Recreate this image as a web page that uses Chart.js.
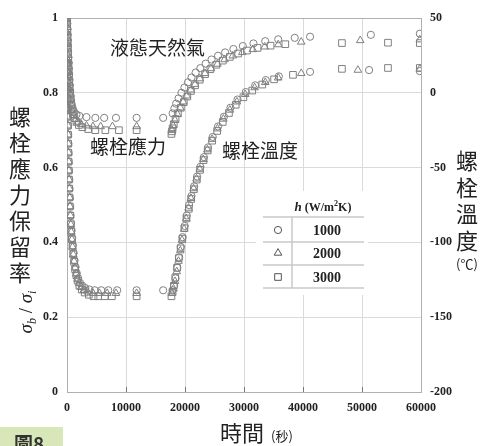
<!DOCTYPE html>
<html>
<head>
<meta charset="utf-8">
<script src="https://cdn.jsdelivr.net/npm/chart.js@4/dist/chart.umd.min.js"></script>
<style>
  html, body { margin: 0; padding: 0; background: #fff; }
  #chart { display: block; }
</style>
</head>
<body>
<canvas id="chart" width="483" height="446"></canvas>
<script>
// time (s) and stress retention ratio for each h (W/m2K)
const stressTime1000 = [0, 30, 60, 90, 120, 150, 180, 220, 260, 300, 350, 400, 460, 530, 610, 700, 820, 1000, 1250, 1600, 2100, 3300, 4800, 6300, 8300, 11800, 16300, 17900, 18200, 18500, 18900, 19400, 19900, 20500, 21100, 21800, 22600, 23500, 24500, 25600, 26800, 28200, 29800, 31600, 33600, 35800, 38600, 41200, 51500, 59800];
const stress1000 = [1.0, 0.985, 0.97, 0.955, 0.94, 0.925, 0.91, 0.895, 0.88, 0.865, 0.85, 0.835, 0.82, 0.805, 0.792, 0.78, 0.768, 0.757, 0.748, 0.742, 0.738, 0.735, 0.733, 0.733, 0.733, 0.733, 0.733, 0.745, 0.758, 0.771, 0.785, 0.8, 0.814, 0.828, 0.841, 0.854, 0.866, 0.878, 0.889, 0.899, 0.908, 0.917, 0.925, 0.932, 0.938, 0.943, 0.947, 0.95, 0.955, 0.958];

const stressTime2000 = [0, 25, 50, 80, 110, 140, 170, 200, 240, 280, 320, 370, 420, 480, 550, 640, 750, 900, 1100, 1400, 1800, 2400, 3300, 4400, 5700, 7700, 11800, 17800, 18000, 18300, 18700, 19200, 19700, 20300, 21000, 21700, 22500, 23400, 24400, 25500, 26700, 28100, 29700, 31500, 33500, 35800, 39700, 49700, 59800];
const stress2000 = [1.0, 0.99, 0.975, 0.96, 0.945, 0.93, 0.915, 0.9, 0.885, 0.87, 0.855, 0.84, 0.825, 0.81, 0.795, 0.78, 0.765, 0.752, 0.74, 0.73, 0.722, 0.716, 0.712, 0.71, 0.71, 0.71, 0.71, 0.7, 0.712, 0.727, 0.743, 0.76, 0.776, 0.792, 0.808, 0.823, 0.838, 0.852, 0.865, 0.877, 0.889, 0.899, 0.908, 0.916, 0.923, 0.929, 0.936, 0.94, 0.942];

const stressTime3000 = [0, 20, 45, 70, 100, 130, 160, 190, 225, 260, 300, 345, 395, 450, 520, 600, 700, 830, 1000, 1250, 1600, 2000, 2600, 3600, 4800, 6500, 8800, 11800, 17700, 17800, 17900, 18100, 18400, 18800, 19300, 19800, 20400, 21000, 21700, 22500, 23400, 24300, 25300, 26400, 27600, 29000, 30500, 32300, 34500, 37000, 46600, 54400, 59800];
const stress3000 = [1.0, 0.99, 0.978, 0.965, 0.95, 0.935, 0.92, 0.905, 0.89, 0.875, 0.86, 0.845, 0.83, 0.815, 0.8, 0.785, 0.77, 0.756, 0.743, 0.732, 0.722, 0.714, 0.708, 0.703, 0.7, 0.7, 0.7, 0.7, 0.69, 0.697, 0.705, 0.716, 0.73, 0.745, 0.76, 0.775, 0.79, 0.805, 0.82, 0.835, 0.85, 0.863, 0.875, 0.886, 0.896, 0.905, 0.913, 0.92, 0.926, 0.93, 0.933, 0.934, 0.933];

// time (s) and bolt temperature (°C)
const tempTime1000 = [0, 25, 50, 75, 100, 125, 150, 180, 210, 240, 270, 300, 340, 380, 430, 480, 540, 610, 690, 780, 880, 1000, 1130, 1280, 1450, 1650, 1900, 2200, 2600, 3100, 3800, 4700, 5800, 7000, 8500, 11800, 16300, 17900, 18150, 18400, 18700, 19000, 19300, 19600, 19950, 20300, 20700, 21100, 21550, 22050, 22600, 23200, 23900, 24700, 25600, 26600, 27700, 28900, 30300, 31900, 33700, 35900, 41200, 51200, 59800];
const temp1000 = [20, 14, 8, 2, -4, -10, -16, -22, -28, -34, -40, -46, -52, -58, -64, -70, -76, -82, -87, -92, -97, -102, -107, -112, -116.5, -120.5, -124, -127, -129, -130.5, -131.5, -132, -132, -132, -132, -132, -132, -132, -129, -124, -117, -110, -103, -96.5, -89, -82, -75, -69, -62.5, -56, -49.5, -43, -36.5, -29.5, -22.5, -16, -10, -4.5, 0.5, 5, 8.5, 11, 14, 15.2, 14.5];

const tempTime2000 = [0, 20, 40, 65, 90, 115, 140, 165, 195, 225, 255, 285, 320, 360, 405, 455, 510, 575, 650, 735, 830, 940, 1060, 1200, 1370, 1560, 1780, 2050, 2400, 2850, 3500, 4400, 5500, 6800, 8300, 11800, 17800, 18050, 18300, 18600, 18900, 19200, 19500, 19850, 20200, 20600, 21000, 21450, 21950, 22500, 23100, 23800, 24600, 25500, 26500, 27600, 28800, 30200, 31800, 33600, 35800, 39700, 49300, 59800];
const temp2000 = [20, 14, 8, 2, -4, -10, -16, -22, -28, -34, -40, -46, -52, -58, -64, -70, -76, -82, -88, -93, -98, -103, -108, -112.5, -117, -121, -124.5, -127.5, -130, -132, -133, -134, -134, -134, -134, -134, -134, -131, -126, -119.5, -112.5, -105.5, -98.5, -91, -84, -77, -70.5, -64, -57.5, -51, -44.5, -38, -31, -24, -17.5, -11.5, -6, -1, 3.5, 7, 10, 13, 15.2, 16];

const tempTime3000 = [0, 20, 40, 60, 80, 100, 125, 150, 175, 200, 230, 260, 290, 330, 370, 420, 480, 550, 630, 720, 820, 930, 1050, 1200, 1380, 1580, 1800, 2100, 2500, 3000, 3700, 4500, 5300, 6400, 7600, 11800, 17700, 17900, 18100, 18350, 18650, 18950, 19250, 19550, 19900, 20250, 20650, 21050, 21500, 22000, 22550, 23150, 23850, 24600, 25450, 26400, 27450, 28600, 29900, 31400, 33100, 35100, 38300, 46600, 54400, 59800];
const temp3000 = [20, 14, 8, 2, -4, -10, -16, -22, -28, -34, -40, -46, -52, -58, -64, -70, -76, -82, -88, -93, -98, -103, -108, -113, -118, -122, -125.5, -129, -131.5, -133.5, -135, -136, -136, -136, -136, -136, -136, -133, -129, -123.5, -117, -110.5, -104, -97.5, -90.5, -84, -77.5, -71, -64.5, -58, -51.5, -45, -38.5, -32, -25.5, -19.5, -13.5, -8, -3, 1.5, 5.5, 9, 12, 16, 16.6, 16.6];

const hLabels = ['1000', '2000', '3000'];
const markerStyles = ['circle', 'triangle', 'rect'];

const cjk = '"Noto Sans CJK TC", "Noto Sans CJK SC", sans-serif';
const serif = '"Liberation Serif", "DejaVu Serif", serif';
const markColor = '#808080';
const markRadius = { circle: 3.6, triangle: 4.4, rect: 4.7 };

function pts(ts, vs) {
  return ts.map((t, i) => ({ x: t, y: vs[i] }));
}

function series(label, ts, vs, style, axis) {
  return {
    label: label,
    data: pts(ts, vs),
    yAxisID: axis,
    pointStyle: style,
    pointRadius: markRadius[style],
    pointBorderWidth: 1,
    borderColor: markColor,
    backgroundColor: 'rgba(0,0,0,0)',
    showLine: false
  };
}

const datasets = [
  series('應力 h=1000', stressTime1000, stress1000, 'circle', 'y'),
  series('應力 h=2000', stressTime2000, stress2000, 'triangle', 'y'),
  series('應力 h=3000', stressTime3000, stress3000, 'rect', 'y'),
  series('溫度 h=1000', tempTime1000, temp1000, 'circle', 'y2'),
  series('溫度 h=2000', tempTime2000, temp2000, 'triangle', 'y2'),
  series('溫度 h=3000', tempTime3000, temp3000, 'rect', 'y2')
];

function drawMarker(ctx, style, x, y) {
  const r = markRadius[style];
  ctx.beginPath();
  if (style === 'circle') {
    ctx.arc(x, y, r, 0, Math.PI * 2);
  } else if (style === 'triangle') {
    ctx.moveTo(x, y - r);
    ctx.lineTo(x + r * 0.866, y + r * 0.5);
    ctx.lineTo(x - r * 0.866, y + r * 0.5);
    ctx.closePath();
  } else {
    const s = r * Math.SQRT1_2;
    ctx.rect(x - s, y - s, s * 2, s * 2);
  }
  ctx.stroke();
}

const annotations = {
  id: 'annotations',
  afterDraw(chart) {
    const ctx = chart.ctx;
    const xs = chart.scales.x;
    const area = chart.chartArea;
    ctx.save();

    // small inner ticks on the time axis
    ctx.strokeStyle = '#777';
    ctx.lineWidth = 1;
    for (let v = 10000; v < 60000; v += 10000) {
      const px = Math.round(xs.getPixelForValue(v)) + 0.5;
      ctx.beginPath();
      ctx.moveTo(px, area.bottom);
      ctx.lineTo(px, area.bottom - 5);
      ctx.stroke();
    }

    ctx.fillStyle = '#222';
    ctx.textAlign = 'left';
    ctx.textBaseline = 'middle';
    ctx.font = '19px ' + cjk;
    ctx.fillText('液態天然氣', 110, 48);
    ctx.fillText('螺栓應力', 90, 147);
    ctx.fillText('螺栓溫度', 222, 151);

    // left axis title, stacked
    ctx.textAlign = 'center';
    ctx.font = '22px ' + cjk;
    const leftTitle = '螺栓應力保留率';
    for (let i = 0; i < leftTitle.length; i++) {
      ctx.fillText(leftTitle[i], 20, 117 + i * 26);
    }
    // sigma_b / sigma_i, rotated
    ctx.save();
    ctx.translate(26, 312);
    ctx.rotate(-Math.PI / 2);
    ctx.textAlign = 'left';
    ctx.textBaseline = 'alphabetic';
    const parts = [
      ['italic 19px ' + serif, 'σ', 0],
      ['italic 12px ' + serif, 'b', 4],
      ['19px ' + serif, ' / ', 0],
      ['italic 19px ' + serif, 'σ', 0],
      ['italic 12px ' + serif, 'i', 4]
    ];
    let total = 0;
    parts.forEach(p => { ctx.font = p[0]; total += ctx.measureText(p[1]).width; });
    let cx = -total / 2;
    parts.forEach(p => {
      ctx.font = p[0];
      ctx.fillText(p[1], cx, 6 + p[2]);
      cx += ctx.measureText(p[1]).width;
    });
    ctx.restore();

    // right axis title, stacked
    ctx.textAlign = 'center';
    ctx.textBaseline = 'middle';
    ctx.font = '22px ' + cjk;
    const rightTitle = '螺栓溫度';
    for (let i = 0; i < rightTitle.length; i++) {
      ctx.fillText(rightTitle[i], 467, 161 + i * 26.5);
    }
    ctx.font = '13px ' + cjk;
    ctx.fillText('(℃)', 467, 264);

    // bottom axis title
    ctx.textAlign = 'left';
    ctx.font = '22px ' + cjk;
    ctx.fillText('時間', 220, 433);
    ctx.font = '13px ' + cjk;
    ctx.fillText('(秒)', 271, 436);

    // figure number tag
    ctx.fillStyle = '#d7e7b7';
    ctx.fillRect(0, 427, 63, 19);
    ctx.fillStyle = '#333';
    ctx.textBaseline = 'top';
    ctx.font = 'bold 19px ' + cjk;
    ctx.fillText('圖8', 14, 434);

    // legend table
    ctx.fillStyle = '#fff';
    ctx.fillRect(256, 191, 112, 104);
    ctx.strokeStyle = '#c8c8c8';
    ctx.lineWidth = 1.5;
    [217, 242, 265, 288].forEach(y => {
      ctx.beginPath();
      ctx.moveTo(263, y);
      ctx.lineTo(364, y);
      ctx.stroke();
    });
    ctx.beginPath();
    ctx.moveTo(292, 217);
    ctx.lineTo(292, 288);
    ctx.stroke();

    ctx.fillStyle = '#222';
    ctx.textBaseline = 'alphabetic';
    ctx.textAlign = 'left';
    const head = [
      ['italic bold 13px ' + serif, 'h', 0],
      ['bold 12px ' + serif, ' (W/m', 0],
      ['bold 8px ' + serif, '2', -5],
      ['bold 12px ' + serif, 'K)', 0]
    ];
    let hw = 0;
    head.forEach(p => { ctx.font = p[0]; hw += ctx.measureText(p[1]).width; });
    let hx = 323 - hw / 2;
    head.forEach(p => {
      ctx.font = p[0];
      ctx.fillText(p[1], hx, 211 + p[2]);
      hx += ctx.measureText(p[1]).width;
    });

    const rowY = [230, 253, 277];
    ctx.textAlign = 'center';
    ctx.textBaseline = 'middle';
    ctx.font = 'bold 14px ' + serif;
    ctx.strokeStyle = '#555';
    ctx.lineWidth = 1;
    hLabels.forEach((lab, i) => {
      drawMarker(ctx, markerStyles[i], 278, rowY[i]);
      ctx.fillText(lab, 327, rowY[i] + 1);
    });

    ctx.restore();
  }
};

const tickFont = { family: serif, weight: 'bold', size: 12 };
const gridColor = max => c => (c.tick && c.tick.value === max ? '#b0b0b0' : '#dadada');

new Chart(document.getElementById('chart').getContext('2d'), {
  type: 'scatter',
  data: { datasets: datasets },
  options: {
    responsive: false,
    animation: false,
    layout: { padding: { top: 18, left: 0, right: 0, bottom: 0 } },
    plugins: {
      legend: { display: false },
      tooltip: { enabled: false }
    },
    scales: {
      x: {
        type: 'linear',
        min: 0,
        max: 60000,
        ticks: {
          stepSize: 10000,
          padding: 9,
          color: '#222',
          font: tickFont,
          maxRotation: 0,
          callback: v => String(v)
        },
        grid: { color: gridColor(60000), drawTicks: false },
        border: { color: '#b0b0b0' },
        afterFit: s => { s.height = 54; }
      },
      y: {
        position: 'left',
        min: 0,
        max: 1,
        ticks: {
          stepSize: 0.2,
          padding: 9,
          color: '#222',
          font: tickFont,
          callback: v => String(+v.toFixed(1))
        },
        grid: { color: gridColor(1), drawTicks: false },
        border: { color: '#b0b0b0' },
        afterFit: s => { s.width = 67; }
      },
      y2: {
        position: 'right',
        min: -200,
        max: 50,
        ticks: {
          stepSize: 50,
          padding: 9,
          color: '#222',
          font: tickFont,
          callback: v => String(v)
        },
        grid: { display: false, drawTicks: false },
        border: { color: '#b0b0b0' },
        afterFit: s => { s.width = 62; }
      }
    }
  },
  plugins: [annotations]
});
</script>
</body>
</html>
